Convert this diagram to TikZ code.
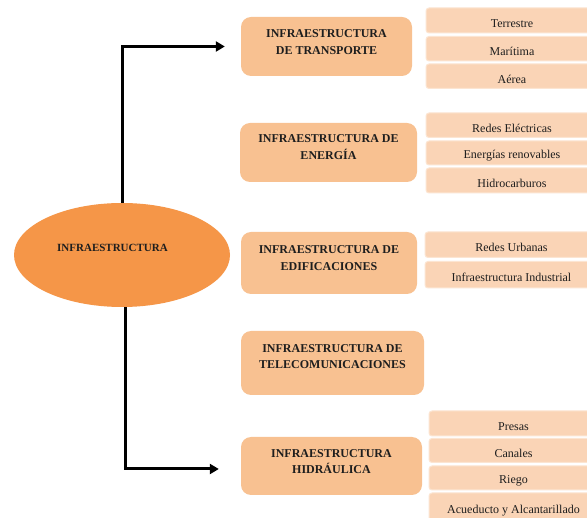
\documentclass[tikz,border=0pt]{standalone}
\usepackage{fontspec}
\setmainfont{Liberation Serif}
\usetikzlibrary{shapes.geometric,arrows.meta}
\definecolor{ellc}{RGB}{245,150,72}
\definecolor{mainc}{RGB}{248,193,145}
\definecolor{subc}{RGB}{250,212,182}
\definecolor{subedge}{RGB}{252,229,210}
\definecolor{txt}{RGB}{30,30,30}
\newcommand\SubBox[5]{%
  \path[subbox] (#2,#3) rectangle (598,#4);
  \node[subtext] (#1) at ({(#2+598)/2},{(#3+#4)/2+3}) {#5};}
\begin{document}
\begin{tikzpicture}[x=1pt,y=-1pt,
  mainbox/.style={draw=none, fill=mainc, rounded corners=10pt, inner sep=0pt},
  subbox/.style={draw=subedge, line width=1pt, fill=subc, rounded corners=3pt},
  maintext/.style={font=\fontsize{12}{16.5}\selectfont\bfseries, align=center, text=txt, inner sep=0pt},
  subtext/.style={font=\fontsize{12}{14}\selectfont, text=txt, inner sep=0pt},
  ellbox/.style={ellipse, fill=ellc, draw=none, inner sep=0pt},
  conn/.style={line width=3pt, -{Triangle[length=9pt,width=10pt]}}]
\useasboundingbox (0,0) rectangle (587,518);
\clip (0,0) rectangle (587,518);
\fill[white] (0,0) rectangle (587,518);

% central ellipse
\node[ellbox, minimum width=216pt, minimum height=104pt] (ell) at (122,255) {};
\node[font=\fontsize{11}{13}\selectfont\bfseries, text=txt, inner sep=0pt] (ellt) at (112.5,248) {INFRAESTRUCTURA};

% main boxes
\node[mainbox, minimum width=171pt, minimum height=59pt] (tr) at (326.5,46.5) {};
\node[maintext] (trt) at (326.5,42) {INFRAESTRUCTURA\\DE TRANSPORTE};
\node[mainbox, minimum width=177pt, minimum height=59pt] (en) at (328.5,152.5) {};
\node[maintext] (ent) at (328.5,147) {INFRAESTRUCTURA DE\\ENERGÍA};
\node[mainbox, minimum width=176pt, minimum height=62pt] (ed) at (329,263) {};
\node[maintext] (edt) at (329,258) {INFRAESTRUCTURA DE\\EDIFICACIONES};
\node[mainbox, minimum width=183pt, minimum height=64pt] (te) at (332.5,363) {};
\node[maintext] (tet) at (332.5,356.5) {INFRAESTRUCTURA DE\\TELECOMUNICACIONES};
\node[mainbox, minimum width=181pt, minimum height=58pt] (hy) at (331.5,466) {};
\node[maintext] (hyt) at (331.5,461.5) {INFRAESTRUCTURA\\HIDRÁULICA};

% sub boxes
\SubBox{s1}{426}{8}{33}{Terrestre}
\SubBox{s2}{426}{36.5}{61}{Marítima}
\SubBox{s3}{426}{64}{88.5}{Aérea}
\SubBox{s4}{426}{113}{137.5}{Redes Eléctricas}
\SubBox{s5}{426}{141}{165}{Energías renovables}
\SubBox{s6}{426}{168}{193}{Hidrocarburos}
\SubBox{s7}{425}{232}{257.5}{Redes Urbanas}
\SubBox{s8}{425}{261.5}{288}{Infraestructura Industrial}
\SubBox{s9}{429}{411}{436}{Presas}
\SubBox{s10}{429}{438.5}{462.5}{Canales}
\SubBox{s11}{429}{466}{490}{Riego}
\SubBox{s12}{429}{493}{522}{Acueducto y Alcantarillado}

% connectors
\draw[conn, shorten >=16pt] (ell.north) |- (tr.west);
\draw[conn, shorten >=22pt] ([xshift=3pt]ell.south) |- ([yshift=-3pt]hy.west);
\end{tikzpicture}
\end{document}
